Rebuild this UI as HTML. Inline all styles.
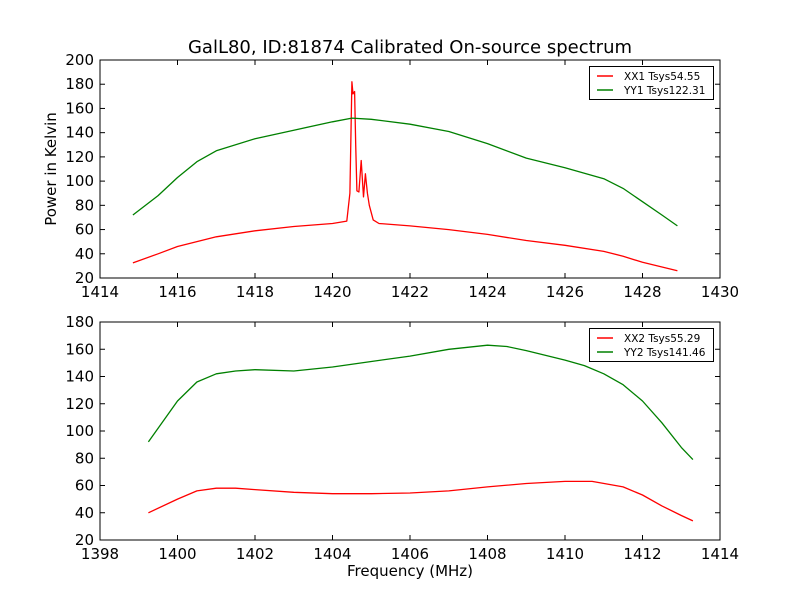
<!DOCTYPE html>
<html><head><meta charset="utf-8"><style>
body{margin:0;background:#fff}
svg{display:block;font-family:"DejaVu Sans","Liberation Sans",sans-serif}
</style></head><body>
<svg id="chart" width="800" height="600" viewBox="0 0 800 600">
<rect width="800" height="600" fill="#fff"/>
<text x="410" y="53" font-size="18" text-anchor="middle">GalL80, ID:81874 Calibrated On-source spectrum</text>
<g id="top"></g>
<g id="bot"></g>
<text x="56" y="169" font-size="15" text-anchor="middle" transform="rotate(-90 56 169)">Power in Kelvin</text>
<text x="410" y="576" font-size="15" text-anchor="middle">Frequency (MHz)</text>
</svg>
<script>
const xx1Freq=[1414.85,1415.5,1416,1417,1418,1419,1420,1420.37,1420.45,1420.5,1420.53,1420.57,1420.6,1420.63,1420.68,1420.74,1420.8,1420.85,1420.9,1420.95,1421.05,1421.2,1422,1423,1424,1425,1426,1427,1427.5,1428,1428.9];
const xx1Vals=[32.5,40,46,54,59,62.5,65,67,90,182,172,174,130,92,91,117,87,106,90,80,68,65,63,60,56,51,47,42,38,33,26];
const yy1Freq=[1414.85,1415.5,1416,1416.5,1417,1418,1419,1420,1420.5,1421,1422,1423,1424,1425,1426,1427,1427.5,1428,1428.5,1428.9];
const yy1Vals=[72,88,103,116,125,135,142,149,152,151,147,141,131,119,111,102,94,83,72,63];
const xx2Freq=[1399.25,1400,1400.5,1401,1401.5,1402,1403,1404,1405,1406,1407,1408,1409,1410,1410.7,1411.5,1412,1412.5,1413,1413.3];
const xx2Vals=[40,50,56,58,58,57,55,54,54,54.5,56,59,61.5,63,63,59,53,45,38,34];
const yy2Freq=[1399.25,1399.5,1400,1400.5,1401,1401.5,1402,1403,1404,1405,1406,1407,1408,1408.5,1409,1410,1410.5,1411,1411.5,1412,1412.5,1413,1413.3];
const yy2Vals=[92,102,122,136,142,144,145,144,147,151,155,160,163,162,159,152,148,142,134,122,106,88,79];
const topXTicks=[1414,1416,1418,1420,1422,1424,1426,1428,1430];
const topYTicks=[20,40,60,80,100,120,140,160,180,200];
const botXTicks=[1398,1400,1402,1404,1406,1408,1410,1412,1414];
const botYTicks=[20,40,60,80,100,120,140,160,180];
const topLegend=["XX1 Tsys54.55","YY1 Tsys122.31"];
const botLegend=["XX2 Tsys55.29","YY2 Tsys141.46"];
const NS="http://www.w3.org/2000/svg";
function mk(p,t,a){const e=document.createElementNS(NS,t);for(const k in a)e.setAttribute(k,a[k]);p.appendChild(e);return e;}
function panel(g,top,bottom,xt,yt,series,legend,name){
  const L=100,R=720;
  const x0=xt[0],x1=xt[xt.length-1],y0=yt[0],y1=yt[yt.length-1];
  const sx=v=>L+(v-x0)/(x1-x0)*(R-L), sy=v=>bottom-(v-y0)/(y1-y0)*(bottom-top);
  series.forEach(s=>{
    const p=mk(g,'polyline',{points:s.f.map((f,i)=>sx(f).toFixed(1)+','+sy(s.v[i]).toFixed(1)).join(' '),fill:'none',stroke:s.c,'stroke-width':1.3,'stroke-linejoin':'round'});
    
    
  });
  xt.forEach(v=>{const X=sx(v);
    mk(g,'line',{x1:X,x2:X,y1:bottom,y2:bottom-5,stroke:'#000'});mk(g,'line',{x1:X,x2:X,y1:top,y2:top+5,stroke:'#000'});
    const t=mk(g,'text',{x:X,y:bottom+19,'font-size':15,'text-anchor':'middle'});t.textContent=v;
    
    });
  yt.forEach(v=>{const Y=sy(v);
    mk(g,'line',{x1:L,x2:L+5,y1:Y,y2:Y,stroke:'#000'});mk(g,'line',{x1:R,x2:R-5,y1:Y,y2:Y,stroke:'#000'});
    const t=mk(g,'text',{x:L-6,y:Y+5,'font-size':15,'text-anchor':'end'});t.textContent=v;
    
    });
  const fr=mk(g,'rect',{x:L,y:top,width:R-L,height:bottom-top,fill:'none',stroke:'#000','stroke-width':1});
  
  
  const lg=mk(g,'g',{});
  
  
  mk(lg,'rect',{x:589.5,y:top+6.5,width:124,height:33,fill:'#fff',stroke:'#000'});
  legend.forEach((l,i)=>{const Y=top+16+i*14;
    mk(lg,'line',{x1:597,x2:613,y1:Y,y2:Y,stroke:series[i].c,'stroke-width':1.5});
    const t=mk(lg,'text',{x:624,y:Y+4,'font-size':10.5});t.textContent=l;
    
    });
}
panel(document.getElementById('top'),60,278,topXTicks,topYTicks,
 [{f:xx1Freq,v:xx1Vals,c:'#ff0000',n:'xx1-line'},{f:yy1Freq,v:yy1Vals,c:'#008000',n:'yy1-line'}],topLegend,'top');
panel(document.getElementById('bot'),322,540,botXTicks,botYTicks,
 [{f:xx2Freq,v:xx2Vals,c:'#ff0000',n:'xx2-line'},{f:yy2Freq,v:yy2Vals,c:'#008000',n:'yy2-line'}],botLegend,'bottom');
</script>
</body></html>
